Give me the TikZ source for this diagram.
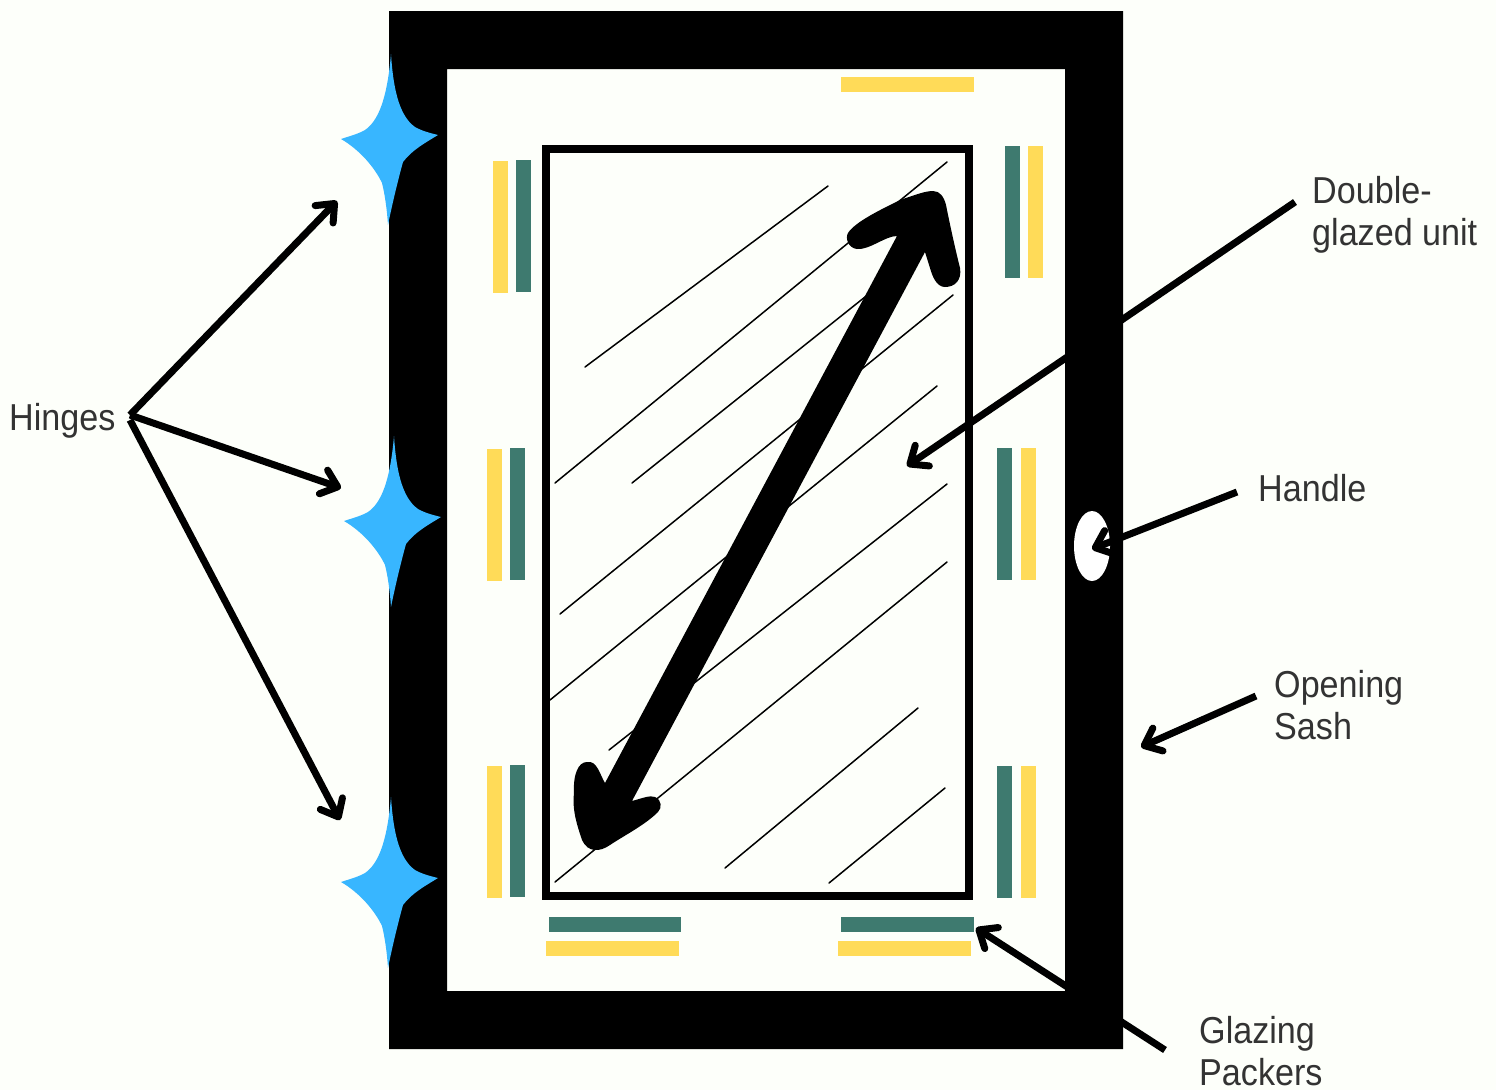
\documentclass[tikz,border=0pt]{standalone}
\usepackage{fontspec}
\setmainfont[FakeStretch=0.91]{Liberation Sans}
\usetikzlibrary{arrows.meta}
\definecolor{paper}{HTML}{FDFFFA}
\definecolor{packergreen}{HTML}{3E7A6F}
\definecolor{packeryellow}{HTML}{FFDB58}
\definecolor{hingeblue}{HTML}{38B6FF}
\definecolor{labelgrey}{HTML}{333333}
\tikzset{
    label text/.style={text=labelgrey, inner sep=0pt, align=left, anchor=north west,
        font=\fontsize{37.5pt}{42pt}\selectfont},
    pointer/.style={line width=7pt, -{Straight Barb[length=15pt,width=25pt,round]}},
    glass line/.style={line width=1.5pt, line cap=round},
    green packer/.style={fill=packergreen},
    yellow packer/.style={fill=packeryellow},
    hinge/.pic={
        \fill[hingeblue] (391,54) .. controls (393,85) and (398,115) .. (415,127)
            .. controls (422,131) and (430,133) .. (438,135)
            .. controls (425,143) and (412,150) .. (403,162)
            .. controls (398,180) and (392,205) .. (388,225)
            .. controls (387,210) and (385,195) .. (382,183)
            .. controls (375,168) and (360,150) .. (341,139)
            .. controls (350,136) and (358,134) .. (365,130)
            .. controls (378,121) and (387,100) .. (391,54) -- cycle;
    },
}
\begin{document}
\begin{tikzpicture}[x=1pt, y=-1pt]
    \fill[paper] (0,0) rectangle (1496,1090);
    \useasboundingbox (0,0) rectangle (1496,1090);

    % sash
    \fill[black, even odd rule] (389,11) rectangle (1123,1049) (447,69) rectangle (1065,991);
    \fill[white] (1092,546) ellipse (18 and 35);

    % hinges
    \path (0,0) pic {hinge} (3,382) pic {hinge} (0,743) pic {hinge};

    % pane
    \draw[line width=8pt] (546,149) rectangle (968.5,895.5);
    \foreach \xa/\ya/\xb/\yb in {585/367/828/186, 555/483/947/162, 632/483/890/277,
        560/614/953/295, 550/700/937/386, 609/750/947/484, 555/882/947/562,
        725/868/918/708, 829/883/945/788}
        \draw[glass line] (\xa,\ya) -- (\xb,\yb);

    % packers
    \foreach \x/\y in {516/160, 1005/146, 510/448, 997/448, 510/765, 997/766}
        \fill[green packer] (\x,\y) rectangle ++(15,132);
    \foreach \x/\y in {493/161, 1028/146, 487/449, 1021/448, 487/766, 1021/766}
        \fill[yellow packer] (\x,\y) rectangle ++(15,132);
    \foreach \x/\w in {549/132, 841/133}
        \fill[green packer] (\x,917) rectangle ++(\w,15);
    \foreach \x/\y in {841/77, 546/941, 838/941}
        \fill[yellow packer] (\x,\y) rectangle ++(133,15);

    % double arrow
    \fill (925,252) -- (632,801)
        .. controls (643,798) and (650,795) .. (655,797)
        .. controls (662,800) and (662,808) .. (658,812)
        .. controls (645,825) and (625,835) .. (610,845)
        .. controls (600,852) and (588,853) .. (582,840)
        .. controls (577,825) and (572,810) .. (574,793)
        .. controls (573,775) and (578,762) .. (587,762)
        .. controls (597,760) and (600,775) .. (605,783)
        -- (897,236)
        .. controls (885,236) and (870,250) .. (857,249)
        .. controls (848,248) and (845,238) .. (848,233)
        .. controls (855,222) and (880,210) .. (900,200)
        .. controls (915,195) and (925,191) .. (933,191)
        .. controls (940,191) and (944,197) .. (946,205)
        .. controls (950,225) and (955,248) .. (960,268)
        .. controls (962,280) and (955,287) .. (945,287)
        .. controls (936,287) and (932,275) .. (930,268) -- cycle;

    % labels
    \node[label text] (hinges) at (9,403) {Hinges};
    \node[label text] (unit) at (1312,176) {Double-\\glazed unit};
    \node[label text] (handle) at (1258,474) {Handle};
    \node[label text] (sash) at (1274,670) {Opening\\Sash};
    \node[label text] (packers) at (1199,1016) {Glazing\\Packers};

    \coordinate (hub) at (130,415);
    \coordinate (hubb) at (130,420);
    \coordinate (hingetop) at (337,201);
    \coordinate (hingemid) at (341,488);
    \coordinate (hingebot) at (340,820);
    \coordinate (unitfrom) at (1295,202);
    \coordinate (unitto) at (907,466);
    \coordinate (handlefrom) at (1237,492);
    \coordinate (handleto) at (1092,549);
    \coordinate (sashfrom) at (1256,696);
    \coordinate (sashto) at (1141,747);
    \coordinate (packerfrom) at (1165,1050);
    \coordinate (packerto) at (976,928);

    \draw[pointer] (hub) -- (hingetop);
    \draw[pointer] (hub) -- (hingemid);
    \draw[pointer] (hubb) -- (hingebot);
    \draw[pointer] (unitfrom) -- (unitto);
    \draw[pointer] (handlefrom) -- (handleto);
    \draw[pointer] (sashfrom) -- (sashto);
    \draw[pointer] (packerfrom) -- (packerto);
\end{tikzpicture}
\end{document}
